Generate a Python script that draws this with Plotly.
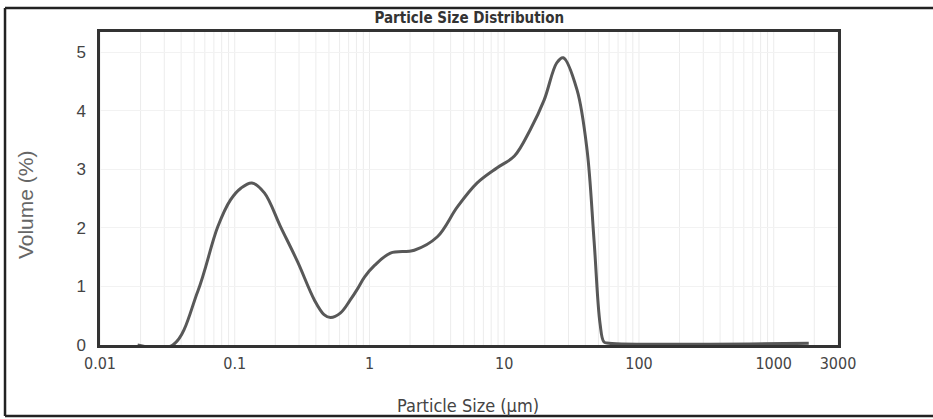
import plotly.graph_objects as go
import math

particle_size_um = [0.019, 0.0347, 0.0532, 0.0748, 0.093, 0.111, 0.134, 0.166, 0.219,
                    0.293, 0.39, 0.46, 0.514, 0.61, 0.72, 0.815, 0.918, 1.09, 1.43, 2.15, 3.19,
                    4.49, 6.3, 8.87, 11.9, 15.6, 19.8, 24.5, 27.4, 34.7, 41.2, 46.4, 51.4, 55,
                    60, 1820]
volume_pct = [0.0, 0.0, 0.92, 2.02, 2.48, 2.68, 2.77, 2.6, 2.02,
              1.42, 0.77, 0.52, 0.47, 0.55, 0.77, 0.96, 1.16, 1.36, 1.57, 1.62, 1.85,
              2.36, 2.77, 3.03, 3.23, 3.68, 4.19, 4.82, 4.91, 4.36, 3.33, 1.79, 0.37, 0.05,
              0.03, 0.03]

x_tick_vals = [0.01, 0.1, 1, 10, 100, 1000, 3000]
x_tick_text = ["0.01", "0.1", "1", "10", "100", "1000", "3000"]
y_tick_vals = [0, 1, 2, 3, 4, 5]

condensed = "DejaVu Sans Condensed, Liberation Sans, Arial, sans-serif"
regular = "Liberation Sans, Arial, sans-serif"

fig = go.Figure()
fig.add_trace(go.Scatter(
    x=particle_size_um, y=volume_pct, mode="lines",
    line=dict(color="#585858", width=3, shape="spline", smoothing=1.0),
    hoverinfo="x+y", showlegend=False))

minor_vals = [m * 10 ** e for e in range(-2, 4) for m in range(1, 10) if m * 10 ** e <= 3000]

fig.update_layout(
    width=933, height=419,
    margin=dict(l=100, r=95, t=32, b=74),
    paper_bgcolor="white", plot_bgcolor="white",
    title=dict(text="<b>Particle Size Distribution</b>", x=0.503, xanchor="center",
               y=0.957, yanchor="middle",
               font=dict(family=condensed, size=15, color="#333333")),
    xaxis=dict(type="log", range=[-2, math.log10(3000)], automargin=False,
               tickvals=x_tick_vals, ticktext=x_tick_text,
               tickfont=dict(family=condensed, size=16, color="#444444"),
               ticks="", ticklabelstandoff=2, showgrid=False,
               showline=True, linecolor="#333333", linewidth=2.5, mirror=True,
               zeroline=False),
    yaxis=dict(range=[0, 5.35], tickvals=y_tick_vals, automargin=False,
               tickfont=dict(family=regular, size=17, color="#444444"),
               ticks="", ticklabelstandoff=8, showgrid=True, gridcolor="#f2f2f2", gridwidth=1,
               showline=True, linecolor="#333333", linewidth=2.5, mirror=True,
               zeroline=False),
    annotations=[
        dict(text="Particle Size (µm)", xref="paper", yref="paper", x=0.4986, y=-0.192,
             xanchor="center", yanchor="middle", showarrow=False,
             font=dict(family=condensed, size=18, color="#444444")),
        dict(text="Volume (%)", xref="paper", yref="paper", x=-0.1016, y=0.447,
             xanchor="center", yanchor="middle", showarrow=False, textangle=-90,
             font=dict(family=regular, size=21, color="#666666")),
    ],
)

for v in minor_vals:
    fig.add_vline(x=v, line=dict(color="#ececec", width=1), layer="below")

frame = dict(color="#222222", width=2.5)
fig.add_shape(type="line", xref="paper", yref="paper", x0=-0.1287, x1=1.3, y0=1.0767, y1=1.0767, line=frame)
fig.add_shape(type="line", xref="paper", yref="paper", x0=-0.1287, x1=1.3, y0=-0.2268, y1=-0.2268, line=frame)
fig.add_shape(type="line", xref="paper", yref="paper", x0=-0.1287, x1=-0.1287, y0=-0.2268, y1=1.0767, line=frame)

fig.write_html("out.html")
